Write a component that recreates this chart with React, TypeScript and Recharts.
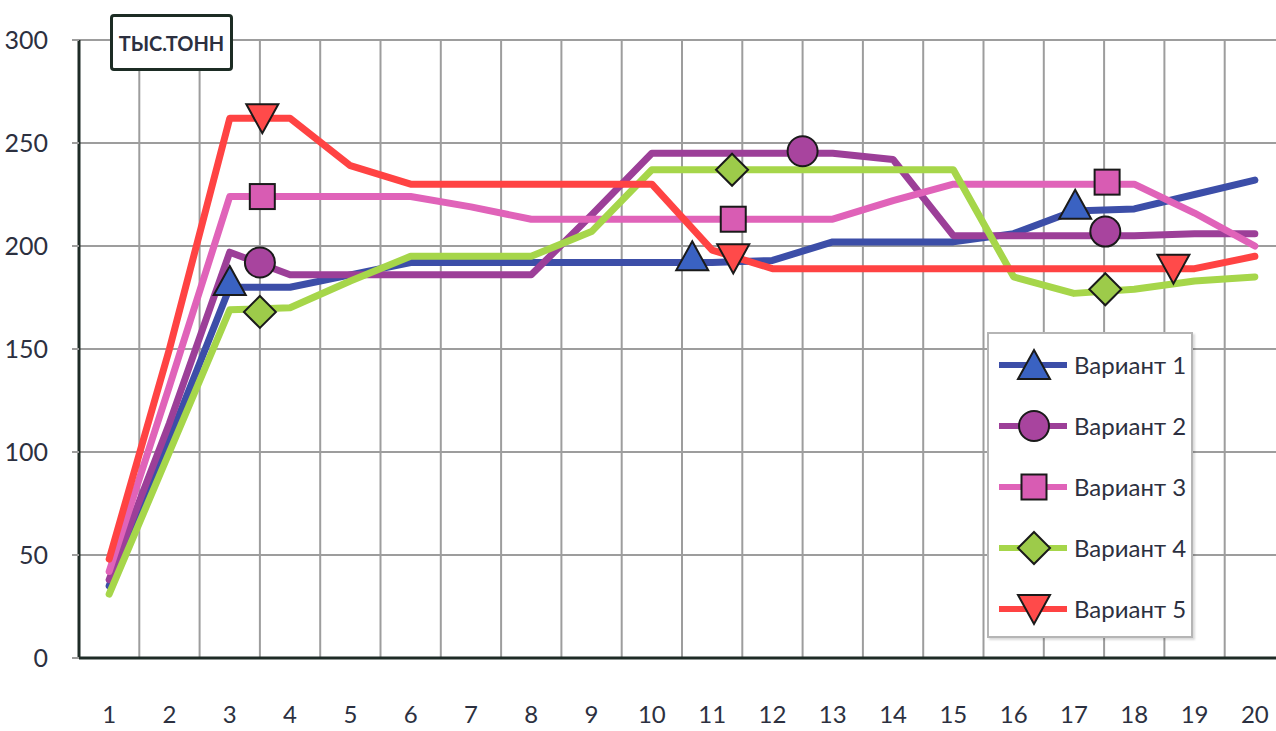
import React from 'react';
import { ComposedChart, Line, Scatter, XAxis, YAxis, CartesianGrid } from 'recharts';

// ---- data ----
const categories = [1, 2, 3, 4, 5, 6, 7, 8, 9, 10, 11, 12, 13, 14, 15, 16, 17, 18, 19, 20];
const gridTicks = [0.5, 1.5, 2.5, 3.5, 4.5, 5.5, 6.5, 7.5, 8.5, 9.5, 10.5, 11.5, 12.5, 13.5, 14.5, 15.5, 16.5, 17.5, 18.5, 19.5, 20.5];
const xDomain = [0.5, 20.5];
const yTicks = [0, 50, 100, 150, 200, 250, 300];
const seriesNames = ['Вариант 1', 'Вариант 2', 'Вариант 3', 'Вариант 4', 'Вариант 5'];
const unitLabel = 'тыс.тонн';

const variant1 = [35, 106, 180, 180, 186, 192, 192, 192, 192, 192, 192, 193, 202, 202, 202, 206, 217, 218, 225, 232];
const variant2 = [38, 114, 197, 186, 186, 186, 186, 186, 215, 245, 245, 245, 245, 242, 205, 205, 205, 205, 206, 206];
const variant3 = [42, 132, 224, 224, 224, 224, 219, 213, 213, 213, 213, 213, 213, 222, 230, 230, 230, 230, 216, 200];
const variant4 = [31, 100, 169, 170, 183, 195, 195, 195, 207, 237, 237, 237, 237, 237, 237, 185, 177, 179, 183, 185];
const variant5 = [48, 150, 262, 262, 239, 230, 230, 230, 230, 230, 198, 189, 189, 189, 189, 189, 189, 189, 189, 195];

// marker positions (x, value)
const markers1 = [{ x: 3.0, y: 183 }, { x: 10.67, y: 195 }, { x: 17.02, y: 220 }];
const markers2 = [{ x: 3.5, y: 192 }, { x: 12.5, y: 246 }, { x: 17.52, y: 207 }];
const markers3 = [{ x: 3.54, y: 224 }, { x: 11.35, y: 213 }, { x: 17.55, y: 231 }];
const markers4 = [{ x: 3.5, y: 168 }, { x: 11.33, y: 237 }, { x: 17.52, y: 179 }];
const markers5 = [{ x: 3.54, y: 262 }, { x: 11.35, y: 194 }, { x: 18.65, y: 189 }];

const lineColors = ['#3c4ea8', '#9c3f98', '#e063b9', '#a6d64a', '#ff4343'];
const markerFills = ['#3a62c2', '#a8449e', '#d85cb3', '#9dcb4a', '#ff4a4a'];
const shapes = ['triUp', 'circle', 'square', 'diamond', 'triDown'];

const toPoints = (vals: number[]) => categories.map((c, i) => ({ x: c, y: vals[i] }));
const seriesValues = [variant1, variant2, variant3, variant4, variant5];
const seriesMarkers = [markers1, markers2, markers3, markers4, markers5];

const FONT = 'Lato, "Open Sans", sans-serif';
const TEXT = '#2c3040';
const AXIS = '#1e2b26';
const GRID = '#9d9d9d';

function Marker({ kind, cx, cy, fill }: { kind: string; cx: number; cy: number; fill: string }) {
  const st = { fill, stroke: '#1a1a1a', strokeWidth: 2, strokeLinejoin: 'miter' as const };
  if (kind === 'triUp') {
    return <polygon points={`${cx},${cy - 15} ${cx + 16},${cy + 14} ${cx - 16},${cy + 14}`} {...st} />;
  }
  if (kind === 'triDown') {
    return <polygon points={`${cx - 16},${cy - 14} ${cx + 16},${cy - 14} ${cx},${cy + 15}`} {...st} />;
  }
  if (kind === 'circle') {
    return <circle cx={cx} cy={cy} r={15} {...st} />;
  }
  if (kind === 'square') {
    return <rect x={cx - 12.5} y={cy - 12.5} width={25} height={25} {...st} />;
  }
  return <polygon points={`${cx},${cy - 16} ${cx + 16},${cy} ${cx},${cy + 16} ${cx - 16},${cy}`} {...st} />;
}

function LegendBox() {
  return (
    <div
      style={{
        position: 'absolute',
        left: 987,
        top: 332,
        width: 206,
        height: 306,
        border: '2px solid #b5b5b5',
        boxShadow: '2px 2px 2px rgba(0,0,0,0.15)',
        background: '#fff',
        boxSizing: 'border-box',
      }}
    >
      {seriesNames.map((name, i) => (
        <div
          key={name}
          style={{ position: 'absolute', left: 0, top: i * 61, height: 61, width: 204, display: 'flex', alignItems: 'center' }}
        >
          <svg width={80} height={40}>
            <line x1={10} y1={20} x2={78} y2={20} stroke={lineColors[i]} strokeWidth={6} />
            <Marker kind={shapes[i]} cx={45} cy={20} fill={markerFills[i]} />
          </svg>
          <span style={{ marginLeft: 5, fontFamily: FONT, fontSize: 24, color: TEXT, whiteSpace: 'nowrap' }}>{name}</span>
        </div>
      ))}
    </div>
  );
}

const verticalGen = (props: any) => {
  const ax = props && props.xAxis;
  if (ax && typeof ax.scale === 'function') {
    const vals = gridTicks.map((t) => ax.scale(t)).filter((v: any) => typeof v === 'number' && isFinite(v));
    if (vals.length === gridTicks.length) return vals;
  }
  const off = props.offset;
  return gridTicks.map((t) => off.left + ((t - xDomain[0]) / (xDomain[1] - xDomain[0])) * off.width);
};

export default function App() {
  return (
    <div
      style={{
        position: 'fixed',
        left: 0,
        top: 0,
        width: 1276,
        height: 731,
        overflow: 'hidden',
        background: '#fff',
        fontFamily: FONT,
      }}
    >
      <ComposedChart width={1292} height={731} margin={{ top: 40, right: 7, bottom: 0, left: 0 }}>
        <CartesianGrid xAxisId="grid" stroke={GRID} strokeWidth={2} verticalCoordinatesGenerator={verticalGen} />
        <XAxis
          xAxisId="grid"
          type="number"
          dataKey="x"
          domain={xDomain}
          ticks={gridTicks}
          interval={0}
          tickFormatter={() => ''}
          height={10}
          tickSize={9}
          axisLine={{ stroke: AXIS, strokeWidth: 3 }}
          tickLine={{ stroke: GRID, strokeWidth: 2 }}
        />
        <XAxis
          xAxisId="lab"
          type="number"
          dataKey="x"
          domain={xDomain}
          ticks={categories}
          interval={0}
          height={63}
          tickSize={0}
          tickMargin={38}
          axisLine={false}
          tickLine={false}
          tick={{ fill: TEXT, fontSize: 24, fontFamily: FONT }}
        />
        <YAxis
          dataKey="y"
          type="number"
          domain={[0, 300]}
          ticks={yTicks}
          interval={0}
          width={79}
          tickSize={7}
          tickMargin={24}
          axisLine={{ stroke: AXIS, strokeWidth: 3 }}
          tickLine={{ stroke: GRID, strokeWidth: 2 }}
          tick={{ fill: TEXT, fontSize: 25, fontFamily: FONT }}
        />
        {seriesValues.map((vals, i) => (
          <Line
            key={seriesNames[i]}
            name={seriesNames[i]}
            xAxisId="lab"
            data={toPoints(vals)}
            dataKey="y"
            type="linear"
            stroke={lineColors[i]}
            strokeWidth={7}
            strokeLinejoin="round"
            strokeLinecap="round"
            dot={false}
            activeDot={false}
            isAnimationActive={false}
          />
        ))}
        {seriesMarkers.map((pts, i) => (
          <Scatter
            key={'m' + seriesNames[i]}
            name={seriesNames[i] + ' markers'}
            xAxisId="lab"
            data={pts}
            dataKey="y"
            isAnimationActive={false}
            shape={(p: any) => <Marker kind={shapes[i]} cx={p.cx} cy={p.cy} fill={markerFills[i]} />}
          />
        ))}
      </ComposedChart>
      <div
        style={{
          position: 'absolute',
          left: 110,
          top: 14,
          width: 123,
          height: 57,
          border: '3px solid #1c2c24',
          borderRadius: 4,
          boxSizing: 'border-box',
          background: '#fff',
          display: 'flex',
          alignItems: 'center',
          justifyContent: 'center',
          fontFamily: FONT,
          fontWeight: 700,
          fontSize: 20,
          color: TEXT,
          textTransform: 'uppercase',
        }}
      >
        {unitLabel}
      </div>
      <LegendBox />
    </div>
  );
}
